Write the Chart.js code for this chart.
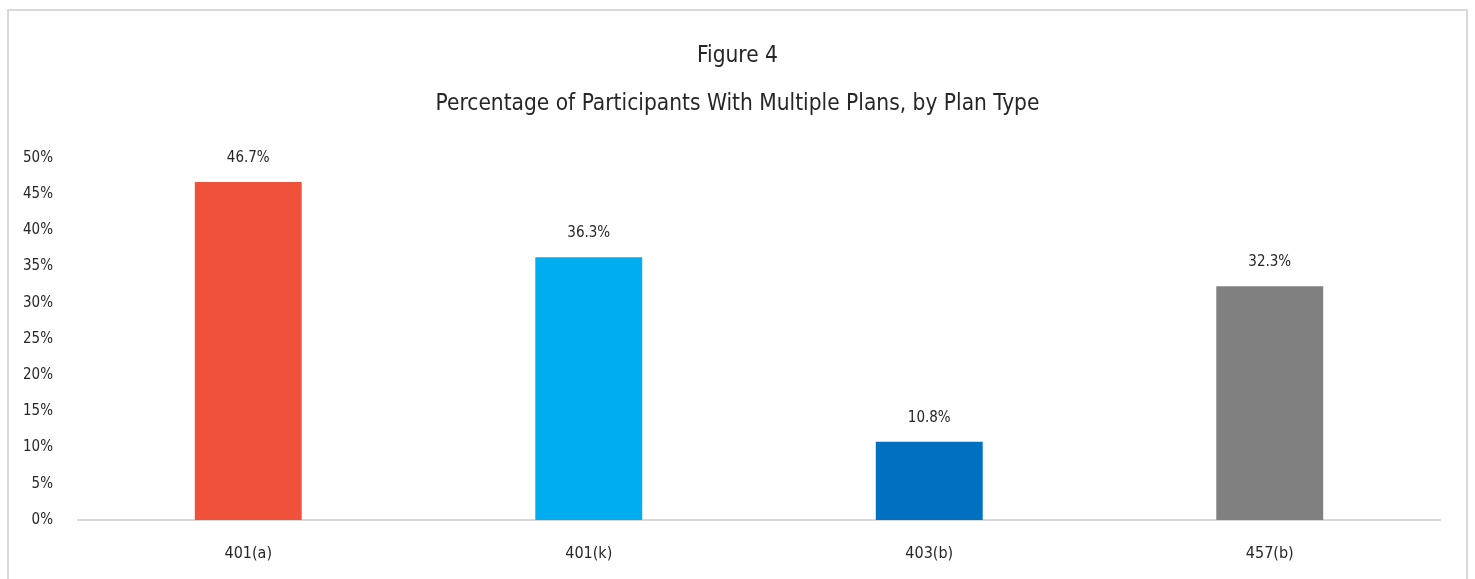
<!DOCTYPE html>
<html>
<head>
<meta charset="utf-8">
<script src="https://cdn.jsdelivr.net/npm/chart.js@4/dist/chart.umd.min.js"></script>
<style>
  html, body { margin: 0; padding: 0; background: #fff; overflow: hidden; }
  #frame {
    position: absolute; left: 7px; top: 9px; width: 1461px; height: 600px;
    border: 2px solid #d9d9d9; box-sizing: border-box; pointer-events: none;
  }
  #wrap { position: absolute; left: 0; top: 0; width: 1475px; height: 579px; }
</style>
</head>
<body>
<div id="wrap"><canvas id="grafico"></canvas></div>
<div id="frame"></div>
<script>
const categorie = ['401(a)', '401(k)', '403(b)', '457(b)'];
const valori = [46.7, 36.3, 10.8, 32.3];
const colori = ['#F0513A', '#00AEEF', '#0070C0', '#808080'];
const tickY = [0, 5, 10, 15, 20, 25, 30, 35, 40, 45, 50];

const FONT = "'Liberation Sans Narrow', 'DejaVu Sans Condensed', 'Roboto Condensed', sans-serif";

// scrive la percentuale sopra ogni barra
const etichette = {
  id: 'etichette',
  afterDatasetsDraw(chart) {
    const c = chart.ctx;
    const meta = chart.getDatasetMeta(0);
    c.save();
    c.font = '15px ' + FONT;
    c.fillStyle = '#262626';
    c.textAlign = 'center';
    c.textBaseline = 'middle';
    meta.data.forEach((bar, i) => {
      c.fillText(valori[i].toFixed(1) + '%', bar.x, bar.y - 24);
    });
    c.restore();
  }
};

const ctx = document.getElementById('grafico').getContext('2d');
const grafico = new Chart(ctx, {
  type: 'bar',
  data: {
    labels: categorie,
    datasets: [{
      label: 'Percentuale',
      data: valori,
      backgroundColor: colori,
      categoryPercentage: 1,
      barPercentage: 0.314
    }]
  },
  plugins: [etichette],
  options: {
    responsive: true,
    maintainAspectRatio: false,
    animation: false,
    layout: {
      padding: { left: 0, right: 0, top: 32, bottom: 0 }
    },
    plugins: {
      legend: { display: false },
      tooltip: { enabled: false },
      title: {
        display: true,
        text: ['Figure 4', 'Percentage of Participants With Multiple Plans, by Plan Type'],
        color: '#262626',
        font: { family: FONT, size: 22.5, weight: 'normal', lineHeight: 48 / 22.5 },
        padding: { top: 0, bottom: 30 }
      }
    },
    scales: {
      x: {
        grid: { display: false, drawTicks: false },
        border: { display: true, color: '#d9d9d9', width: 2 },
        afterFit(scale) { scale.height = 59; },
        ticks: {
          color: '#262626',
          padding: 24,
          font: { family: FONT, size: 16 }
        }
      },
      y: {
        min: 0,
        max: 50,
        afterBuildTicks(scale) {
          scale.ticks = tickY.map(v => ({ value: v }));
        },
        afterFit(scale) { scale.width = 78; },
        grid: { display: false, drawTicks: false },
        border: { display: false },
        ticks: {
          color: '#262626',
          padding: 25,
          font: { family: FONT, size: 15 },
          callback: v => v + '%'
        }
      },
      // asse vuoto a destra: solo spazio bianco, il titolo resta centrato sul riquadro
      margine: {
        position: 'right',
        min: 0,
        max: 50,
        afterFit(scale) { scale.width = 35; },
        grid: { display: false, drawTicks: false },
        border: { display: false },
        ticks: { display: false }
      }
    }
  }
});
</script>
</body>
</html>
